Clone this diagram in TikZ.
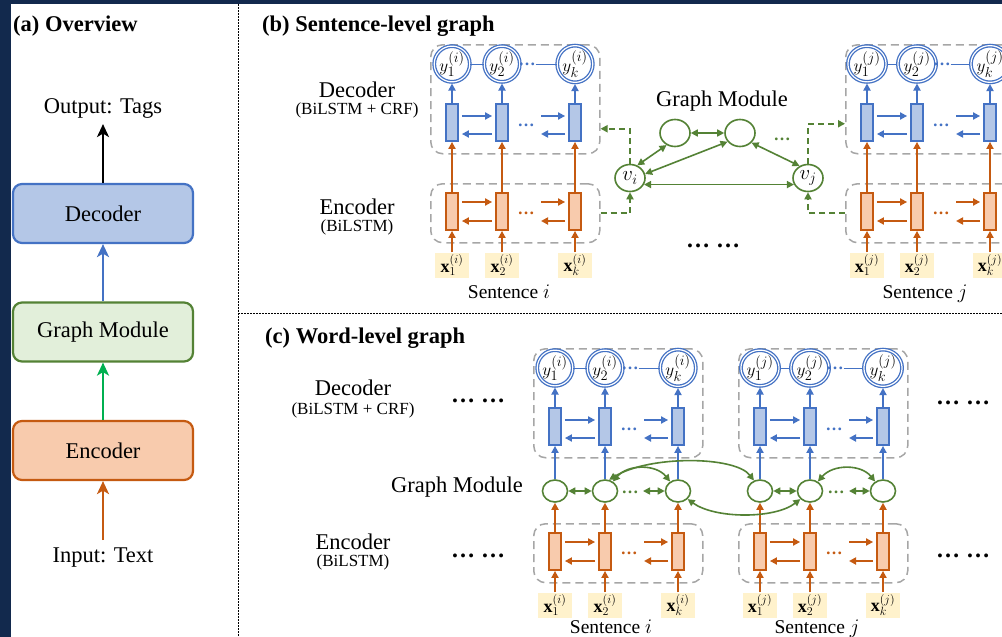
\documentclass[tikz,border=0pt]{standalone}
\usepackage{fontspec}
\setmainfont{Liberation Serif}
\usetikzlibrary{arrows.meta,shapes.geometric}

\definecolor{framenavy}{HTML}{12294D}
\definecolor{cblue}{HTML}{4472C4}
\definecolor{cbluefill}{HTML}{B4C7E7}
\definecolor{corange}{HTML}{C55A11}
\definecolor{corangefill}{HTML}{F8CBAD}
\definecolor{cgreen}{HTML}{548235}
\definecolor{cgreenfill}{HTML}{E2EFDA}
\definecolor{cbright}{HTML}{00B050}
\definecolor{cgray}{HTML}{A6A6A6}
\definecolor{cyellow}{HTML}{FFF2CC}

\tikzset{
  >={Triangle[length=7pt,width=7pt]},
  big/.style={font=\fontsize{22.5}{27}\selectfont, inner sep=0pt},
  small/.style={font=\fontsize{17}{20}\selectfont, inner sep=0pt},
  title/.style={font=\fontsize{22.5}{27}\selectfont\bfseries, inner sep=0pt, anchor=base west},
  sepline/.style={line width=0.8pt, dash pattern=on 1.6pt off 1.4pt},
  ovbox/.style={draw, rounded corners=9pt, line width=2.2pt, minimum width=180pt,
    minimum height=59pt, inner sep=0pt, font=\fontsize{22.5}{27}\selectfont},
  ovarrow/.style={line width=2.5pt, -{Stealth[length=13pt,width=12pt,inset=3.5pt]}},
  grp/.style={draw=cgray, line width=1.5pt, dash pattern=on 8pt off 5pt,
    rounded corners=12pt, inner sep=0pt, anchor=north west},
  ycirc/.style={ellipse, draw=cblue, line width=1.3pt, double=white, double distance=1.2pt,
    minimum width=28pt, minimum height=25pt, inner sep=0pt, font=\fontsize{19}{22}\selectfont},
  cell/.style={line width=1.8pt, minimum width=12pt, minimum height=37pt, inner sep=0pt},
  bcell/.style={cell, draw=cblue, fill=cbluefill},
  ocell/.style={cell, draw=corange, fill=corangefill},
  barr/.style={cblue, line width=1.8pt, ->},
  oarr/.style={corange, line width=1.8pt, ->},
  garr/.style={cgreen, line width=1.6pt, <->},
  gdash/.style={cgreen, line width=1.8pt, dash pattern=on 6pt off 4pt, ->},
  gnode/.style={ellipse, draw=cgreen, line width=1.6pt, fill=white, inner sep=0pt,
    font=\fontsize{21}{24}\selectfont},
  bgnode/.style={gnode, minimum width=30pt, minimum height=27pt},
  cgnode/.style={gnode, minimum width=25pt, minimum height=22pt},
  xlab/.style={fill=cyellow, minimum width=34pt, minimum height=25pt, inner sep=0pt,
    font=\fontsize{18}{21}\selectfont},
  dotsn/.style={inner sep=0pt, font=\fontsize{17}{20}\selectfont\bfseries},
  bigdots/.style={inner sep=0pt, font=\fontsize{24}{28}\selectfont\bfseries},
  sentlab/.style={font=\fontsize{19.5}{23}\selectfont, inner sep=0pt, text depth=0pt},
  % decoder: BiLSTM cells topped by CRF tag nodes, in a dashed frame
  decblock/.pic={
    \node[grp, minimum width=169pt, minimum height=109pt] (-box) at (0,0) {};
    \node[ycirc] (-y1) at (22,20) {$y_1^{(#1)}$};
    \node[ycirc] (-y2) at (72,20) {$y_2^{(#1)}$};
    \node[ycirc] (-yk) at (145,20) {$y_k^{(#1)}$};
    \node[dotsn, text=cblue] (-yd) at (97,20) {\ldots};
    \draw[cblue, line width=0.9pt] (-y1) -- (-y2);
    \draw[cblue, line width=0.9pt] (-yd) -- (-yk);
    \node[bcell] (-c1) at (22,78.5) {};
    \node[bcell] (-c2) at (72,78.5) {};
    \node[bcell] (-ck) at (145,78.5) {};
    \node[dotsn, text=cblue] (-cd) at (96,81) {\ldots};
    \coordinate (-ra) at (111,72);
    \coordinate (-rb) at (111,90);
    \draw[barr] ([xshift=3pt,yshift=6.5pt]-c1.east) -- ([xshift=-3pt,yshift=6.5pt]-c2.west);
    \draw[barr] ([xshift=-3pt,yshift=-11.5pt]-c2.west) -- ([xshift=3pt,yshift=-11.5pt]-c1.east);
    \draw[barr] (-ra) -- ([xshift=-3pt,yshift=6.5pt]-ck.west);
    \draw[barr] ([xshift=-3pt,yshift=-11.5pt]-ck.west) -- (-rb);
    \foreach \c in {1,2,k} \draw[barr, shorten >=1pt] (-c\c.north) -- (-y\c.south);
  },
  % encoder: BiLSTM cells over the input tokens
  encblock/.pic={
    \node[grp, minimum width=169pt, minimum height=59pt] (-box) at (0,0) {};
    \node[ocell] (-c1) at (22,28.5) {};
    \node[ocell] (-c2) at (72,28.5) {};
    \node[ocell] (-ck) at (145,28.5) {};
    \node[dotsn, text=corange] (-cd) at (96,30) {\ldots};
    \coordinate (-ra) at (111,19);
    \coordinate (-rb) at (111,38);
    \draw[oarr] ([xshift=3pt,yshift=9.5pt]-c1.east) -- ([xshift=-3pt,yshift=9.5pt]-c2.west);
    \draw[oarr] ([xshift=-3pt,yshift=-9.5pt]-c2.west) -- ([xshift=3pt,yshift=-9.5pt]-c1.east);
    \draw[oarr] (-ra) -- ([xshift=-3pt,yshift=9.5pt]-ck.west);
    \draw[oarr] ([xshift=-3pt,yshift=-9.5pt]-ck.west) -- (-rb);
    \node[xlab] (-x1) at (22,82) {$\mathbf{x}_1^{(#1)}$};
    \node[xlab] (-x2) at (72,82) {$\mathbf{x}_2^{(#1)}$};
    \node[xlab] (-xk) at (145,82) {$\mathbf{x}_k^{(#1)}$};
    \foreach \c in {1,2,k} \draw[oarr] (-x\c.north) -- (-c\c.south);
  },
}

\begin{document}
\begin{tikzpicture}[x=1pt,y=-1pt]
\clip (0,0) rectangle (1002,637);
\fill[framenavy] (0,0) rectangle (1002,637);
\fill[white] (11,4) rectangle (1002,637);
\draw[sepline] (238,4) -- (238,637);
\draw[sepline] (238,313) -- (1002,313);

% ---------- (a) overview ----------
\node[title] (ta) at (13,31) {(a) Overview};
\node[big] (out) at (103,108) {Output: Tags};
\node[ovbox, draw=cblue, fill=cbluefill] (dec) at (103,213.5) {Decoder};
\node[ovbox, draw=cgreen, fill=cgreenfill] (gm) at (103,332) {Graph Module};
\node[ovbox, draw=corange, fill=corangefill] (enc) at (103,450.5) {Encoder};
\node[big] (inp) at (103,558) {Input: Text};
\draw[ovarrow, black] (dec.north) -- ([yshift=-6pt]out.south);
\draw[ovarrow, cblue] (gm.north) -- (dec.south);
\draw[ovarrow, cbright] (enc.north) -- (gm.south);
\draw[ovarrow, corange] ([yshift=8pt]inp.north) -- (enc.south);

% ---------- (b) sentence-level graph ----------
\node[title] (tb) at (262,31) {(b) Sentence-level graph};
\node[big] (bdl) at (357,90) {Decoder};
\node[small] (bdl2) at (357,110) {(BiLSTM + CRF)};
\node[big] (bel) at (357,207) {Encoder};
\node[small] (bel2) at (357,227) {(BiLSTM)};

\pic (bdi) at (430,44) {decblock=i};
\pic (bei) at (430,183) {encblock=i};
\pic (bdj) at (845,44) {decblock=j};
\pic (bej) at (845,183) {encblock=j};
\foreach \s in {i,j} \foreach \c in {1,2,k}
  \draw[oarr] (be\s-c\c.north) -- (bd\s-c\c.south);
\node[sentlab] (bsi) at (509,292) {Sentence $i$};
\node[sentlab] (bsj) at (925,292) {Sentence $j$};

\node[big] (bgm) at (722,101) {Graph Module};
\node[bgnode] (ga) at (675,133) {};
\node[bgnode] (gb) at (740,133) {};
\node[bgnode] (vi) at (630,178) {$v_i$};
\node[bgnode] (vj) at (808,178) {$v_j$};
\node[dotsn, text=cgreen] (gdots) at (782,139) {\ldots};
\draw[garr] (ga) -- (gb);
\draw[garr] (vi.60) -- (ga.235);
\draw[garr] (vi.15) -- (gb.215);
\draw[garr] (gb.-40) -- (vj.125);
\draw[garr] (vi.-25) -- (vj.205);
\draw[gdash] (bei-box.east) -| (vi.south);
\draw[gdash] (vi.north) |- ([yshift=-29.5pt]bdi-box.east);
\draw[gdash] (vj.north) |- ([yshift=-24.5pt]bdj-box.west);
\draw[gdash] (bej-box.west) -| (vj.south);
\node[bigdots] (bmore) at (713,246) {\ldots\ \ldots};

% ---------- (c) word-level graph ----------
\node[title] (tc) at (265,343) {(c) Word-level graph};
\node[big] (cdl) at (353,388) {Decoder};
\node[small] (cdl2) at (353,410) {(BiLSTM + CRF)};
\node[big] (cgl) at (457,487) {Graph Module};
\node[big] (cel) at (353,542) {Encoder};
\node[small] (cel2) at (353,562) {(BiLSTM)};

\pic (cdi) at (533,348) {decblock=i};
\pic (cei) at (533,523) {encblock=i};
\pic (cdj) at (738,348) {decblock=j};
\pic (cej) at (738,523) {encblock=j};
\node[sentlab] (csi) at (611,627) {Sentence $i$};
\node[sentlab] (csj) at (817,627) {Sentence $j$};

\node[cgnode] (cgi1) at (555,491) {};
\node[cgnode] (cgi2) at (605,491) {};
\node[cgnode] (cgik) at (678,491) {};
\node[cgnode] (cgj1) at (760,491) {};
\node[cgnode] (cgj2) at (810,491) {};
\node[cgnode] (cgjk) at (883,491) {};
\foreach \s in {i,j} \foreach \c in {1,2,k} {
  \draw[oarr] (ce\s-c\c.north) -- (cg\s\c.south);
  \draw[barr] (cg\s\c.north) -- (cd\s-c\c.south);
}
\draw[garr] (cgi1) -- (cgi2);
\node[dotsn, text=cgreen] (cgid) at (630,492) {\ldots};
\coordinate (cgia) at (643,491);
\draw[garr] (cgia) -- (cgik);
\draw[garr] (cgj1) -- (cgj2);
\node[dotsn, text=cgreen] (cgjd) at (836,492) {\ldots};
\coordinate (cgja) at (849,491);
\draw[garr] (cgja) -- (cgjk);
\draw[garr] (cgi2.50) .. controls (628,464) and (656,464) .. (cgik.130);
\draw[garr] (cgi2.70) .. controls (650,455) and (735,456) .. (cgj1.120);
\draw[garr] (cgik.-40) .. controls (715,519) and (775,519) .. (cgj2.220);
\draw[garr] (cgj2.50) .. controls (833,464) and (861,464) .. (cgjk.130);

\node[bigdots] (cmore1) at (478,401) {\ldots\ \ldots};
\node[bigdots] (cmore2) at (478,556) {\ldots\ \ldots};
\node[bigdots] (cmore3) at (963,403) {\ldots\ \ldots};
\node[bigdots] (cmore4) at (963,556) {\ldots\ \ldots};
\end{tikzpicture}
\end{document}
